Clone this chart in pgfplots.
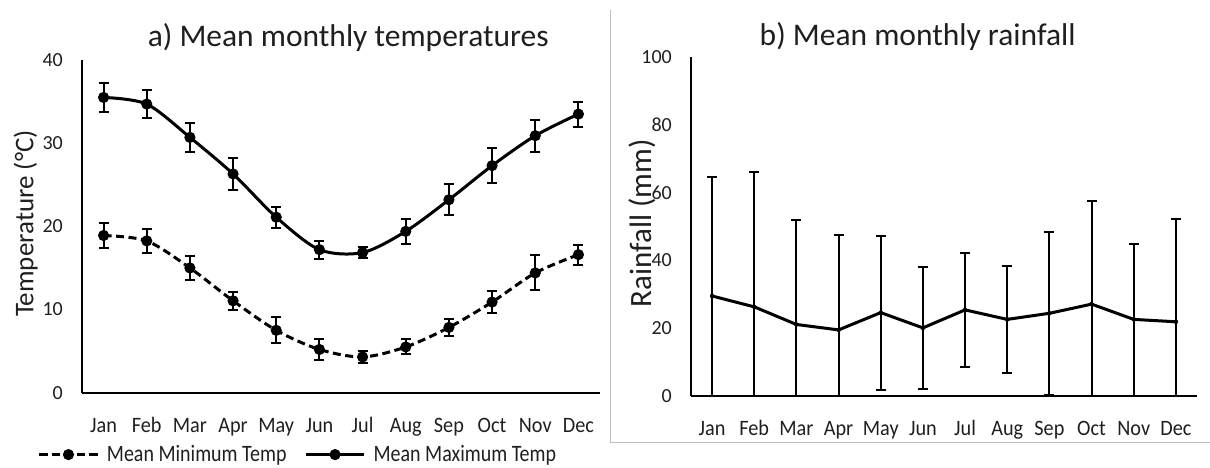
\documentclass[border=0pt]{standalone}
\usepackage{fontspec}
\setmainfont{Carlito}
\newfontfamily\legfont{Carlito}[FakeStretch=0.85]
\newfontfamily\monfont{Carlito}[FakeStretch=0.92]
\usepackage{pgfplots}
\usepackage{pgfplotstable}
\pgfplotsset{compat=1.18}

\pgfplotstableread{
x mean err
0 18.9 1.45
1 18.25 1.4
2 15.0 1.45
3 11.05 1.1
4 7.5 1.55
5 5.2 1.3
6 4.3 0.7
7 5.5 0.9
8 7.85 1.0
9 10.9 1.3
10 14.4 2.1
11 16.6 1.2
}\tmin

\pgfplotstableread{
x mean err
0 35.5 1.7
1 34.7 1.7
2 30.7 1.7
3 26.3 1.9
4 21.1 1.25
5 17.2 1.1
6 16.85 0.65
7 19.4 1.5
8 23.2 1.85
9 27.3 2.1
10 30.9 1.9
11 33.5 1.5
}\tmax

\pgfplotstableread{
x mean err
0 29.5 35.0
1 26.3 39.7
2 21.1 30.7
3 19.5 28.1
4 24.6 22.7
5 20.1 18.0
6 25.4 16.9
7 22.6 15.7
8 24.4 24.1
9 27.1 30.4
10 22.6 22.3
11 21.9 30.3
}\rain

% lower bars that end above the axis (with cap)
\pgfplotstableread{
x mean err
4 24.6 22.7
5 20.1 18.0
6 25.4 16.9
7 22.6 15.7
8 24.4 24.1
}\raincap

% lower bars that reach the axis (no cap)
\pgfplotstableread{
x mean err
0 29.5 29.5
1 26.3 26.3
2 21.1 21.1
3 19.5 19.5
9 27.1 27.1
10 22.6 22.6
11 21.9 21.9
}\rainnocap

\definecolor{txt}{gray}{0.12}
\definecolor{frame}{RGB}{191,191,191}

\pgfplotsset{
  common/.style={
    scale only axis,
    xmin=-0.5, xmax=11.5,
    axis x line*=bottom, axis y line*=left,
    axis line style={line width=2pt, black},
    major tick length=0pt,
    xtick={0,...,11},
    xticklabels={Jan,Feb,Mar,Apr,May,Jun,Jul,Aug,Sep,Oct,Nov,Dec},
    /pgf/number format/assume math mode=true,
    yticklabel={\pgfmathprintnumber[assume math mode=true]{\tick}},
    yticklabel style={font=\fontsize{20}{24}\selectfont, text=txt, anchor=east, inner sep=0pt, xshift=-19pt},
    xticklabel style={font=\monfont\fontsize{22}{26}\selectfont, text=txt, anchor=base, inner sep=0pt, yshift=-39.5pt},
    clip=false,
  },
  ebar/.style={error bars/.cd, y dir=both, y explicit,
    error bar style={solid, line width=2pt, black},
    error mark options={rotate=90, solid, line width=2pt, mark size=5pt, black}},
}

\begin{document}
\begin{tikzpicture}
\path[use as bounding box] (0pt,0pt) rectangle (1210pt,-467pt);

\draw[line width=1pt, frame] (610pt,-10pt) -- (610pt,-442pt) -- (1210pt,-442pt);

% ---------- a) temperatures ----------
\begin{axis}[common,
  at={(82pt,-392.7pt)}, anchor=south west,
  width=518pt, height=332.7pt,
  ymin=0, ymax=40, ytick={0,10,20,30,40},
  title={a) Mean monthly temperatures},
  title style={font=\fontsize{31.5}{36}\selectfont, text=txt, anchor=base, at={(axis description cs:0.514,1)}, yshift=7.7pt, inner sep=0pt},
  ylabel={Temperature (\textdegree C)},
  ylabel style={font=\fontsize{27}{32}\selectfont, text=txt, anchor=base, at={(axis description cs:-0.094,0.5086)}, inner sep=0pt},
  legend columns=2,
  legend style={at={(axis description cs:-0.085,-0.186)}, anchor=west, draw=none, fill=none,
    inner sep=0pt, outer sep=0pt, font=\legfont\fontsize{23.5}{26}\selectfont, text=txt,
    nodes={inner sep=0pt},
    /tikz/every odd column/.style={column sep=8pt},
    /tikz/every even column/.style={column sep=18pt}},
  legend cell align=left,
  legend image code/.code={\draw[mark repeat=2,mark phase=2,#1] plot coordinates {(0pt,0pt) (29pt,0pt) (58pt,0pt)};},
]
\addplot[black, line width=3pt, smooth, dash pattern=on 8pt off 4.5pt,
  mark=*, mark size=4pt, mark options={solid}, ebar]
  table[x=x, y=mean, y error=err] {\tmin};
\addlegendentry{Mean Minimum Temp}
\addplot[black, line width=3pt, smooth,
  mark=*, mark size=4pt, mark options={solid}, ebar]
  table[x=x, y=mean, y error=err] {\tmax};
\addlegendentry{Mean Maximum Temp}
\end{axis}

% ---------- b) rainfall ----------
\begin{axis}[common,
  at={(691pt,-396pt)}, anchor=south west,
  width=506pt, height=339pt,
  ymin=0, ymax=100, ytick={0,20,40,60,80,100},
  title={b) Mean monthly rainfall},
  title style={font=\fontsize{31.5}{36}\selectfont, text=txt, anchor=base, at={(axis description cs:0.448,1)}, yshift=5.3pt, inner sep=0pt},
  ylabel={Rainfall (mm)},
  ylabel style={font=\fontsize{31}{36}\selectfont, text=txt, anchor=base, at={(axis description cs:-0.0777,0.509)}, inner sep=0pt},
]
\addplot[black, line width=3pt, mark=none,
  error bars/.cd, y dir=plus, y explicit,
  error bar style={line width=2pt, black},
  error mark options={rotate=90, line width=2pt, mark size=5pt, black}]
  table[x=x, y=mean, y error=err] {\rain};
\addplot[only marks, mark=none,
  error bars/.cd, y dir=minus, y explicit,
  error bar style={line width=2pt, black},
  error mark options={rotate=90, line width=2pt, mark size=5pt, black}]
  table[x=x, y=mean, y error=err] {\raincap};
\addplot[only marks, mark=none,
  error bars/.cd, y dir=minus, y explicit, error mark=none,
  error bar style={line width=2pt, black}]
  table[x=x, y=mean, y error=err] {\rainnocap};
\end{axis}
\end{tikzpicture}
\end{document}
